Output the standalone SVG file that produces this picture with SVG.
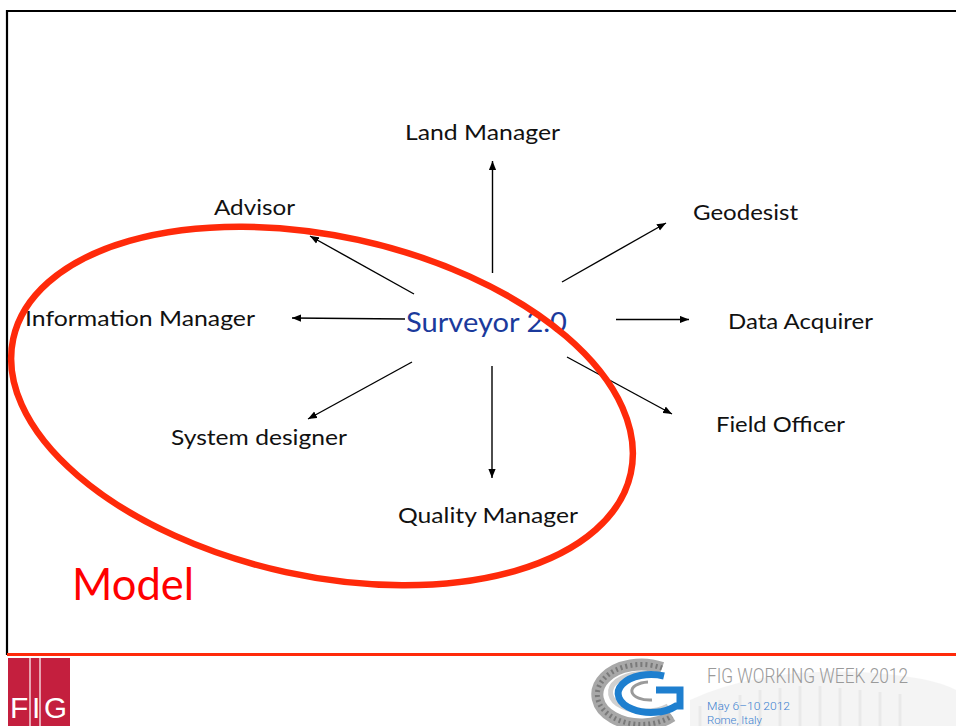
<svg xmlns="http://www.w3.org/2000/svg" width="956" height="726" viewBox="0 0 956 726">
<defs>
<style>
.lbl{font-family:Lato,"Open Sans","Liberation Sans",sans-serif;font-size:21.5px;fill:#111}
.ctr{font-family:Lato,"Open Sans","Liberation Sans",sans-serif;font-size:27px;fill:#1b3a9c}
.model{font-family:Lato,"Open Sans","Liberation Sans",sans-serif;font-size:44px;fill:#ff0000}
.conn{stroke:#000;stroke-width:1.4;fill:none;marker-end:url(#ah)}
.foot1{font-family:Roboto,"Liberation Sans",sans-serif;font-weight:300;font-size:21px;fill:#9a9a9a}
.foot2{font-family:Roboto,"Liberation Sans",sans-serif;font-weight:300;font-size:11px;fill:#3a7fd0}
.figt{font-family:"Liberation Sans",Arial,sans-serif;font-size:30px;fill:#fff}
</style>
<marker id="ah" viewBox="0 0 10 8" refX="10" refY="4" markerWidth="9" markerHeight="8" markerUnits="userSpaceOnUse" orient="auto">
<path d="M0,0 L10,4 L0,8 Z" fill="#000"/>
</marker>
</defs>
<rect width="956" height="726" fill="#fff"/>
<!-- frame -->
<line x1="7" y1="11" x2="956" y2="11" stroke="#000" stroke-width="2.2"/>
<line x1="7" y1="10" x2="7" y2="655" stroke="#000" stroke-width="2.2"/>
<line x1="7" y1="654.5" x2="956" y2="654.5" stroke="#ff2a0a" stroke-width="3"/>

<g id="connectors">
<line class="conn" x1="492.5" y1="273" x2="492.5" y2="161"/>
<line class="conn" x1="414" y1="294" x2="310" y2="236"/>
<line class="conn" x1="562" y1="282" x2="666" y2="223"/>
<line class="conn" x1="405" y1="319" x2="292" y2="318"/>
<line class="conn" x1="616" y1="319.5" x2="689" y2="319.5"/>
<line class="conn" x1="412" y1="362" x2="308" y2="419"/>
<line class="conn" x1="492" y1="366" x2="492" y2="478"/>
<line class="conn" x1="567" y1="357" x2="672" y2="414"/>
</g>

<g id="n-center"><text class="ctr" x="406" y="332" textLength="161" lengthAdjust="spacingAndGlyphs">Surveyor 2.0</text></g>
<g id="n-land"><text class="lbl" x="405" y="140" textLength="155" lengthAdjust="spacingAndGlyphs">Land Manager</text></g>
<g id="n-advisor"><text class="lbl" x="214" y="215" textLength="81" lengthAdjust="spacingAndGlyphs">Advisor</text></g>
<g id="n-geodesist"><text class="lbl" x="693" y="220" textLength="105" lengthAdjust="spacingAndGlyphs">Geodesist</text></g>
<g id="n-info"><text class="lbl" x="25" y="326" textLength="230" lengthAdjust="spacingAndGlyphs">Information Manager</text></g>
<g id="n-data"><text class="lbl" x="728" y="329" textLength="145" lengthAdjust="spacingAndGlyphs">Data Acquirer</text></g>
<g id="n-field"><text class="lbl" x="716" y="432" textLength="129" lengthAdjust="spacingAndGlyphs">Field Officer</text></g>
<g id="n-system"><text class="lbl" x="171" y="445" textLength="176" lengthAdjust="spacingAndGlyphs">System designer</text></g>
<g id="n-quality"><text class="lbl" x="398" y="523" textLength="180" lengthAdjust="spacingAndGlyphs">Quality Manager</text></g>

<g id="model-ellipse">
<ellipse cx="322" cy="406" rx="316" ry="170" transform="rotate(12.3 322 406)" fill="none" stroke="#ff2a0a" stroke-width="6.5"/>
</g>
<g id="model-label"><text class="model" x="72" y="600" textLength="122" lengthAdjust="spacingAndGlyphs">Model</text></g>

<!-- footer -->
<g id="fig-logo">
<rect x="8" y="658" width="62" height="68" fill="#c41f3e"/>
<line x1="30" y1="658" x2="30" y2="726" stroke="#fff" stroke-width="1.2"/>
<line x1="40" y1="658" x2="40" y2="726" stroke="#fff" stroke-width="1.2"/>
<text class="figt" x="10" y="718">F</text>
<text class="figt" x="32" y="718">I</text>
<text class="figt" x="44" y="718" textLength="23" lengthAdjust="spacingAndGlyphs">G</text>
</g>

<g id="backdrop" opacity="0.18">
<path d="M690,726 L690,700 Q760,668 860,672 Q930,676 956,690 L956,726 Z" fill="#c8c8c8"/>
<path d="M700,726 L700,706 M720,726 L720,700 M740,726 L740,695 M760,726 L760,690 M780,726 L780,688 M800,726 L800,686 M820,726 L820,686 M840,726 L840,688 M860,726 L860,690 M880,726 L880,692 M900,726 L900,694" stroke="#888" stroke-width="3"/>
</g>

<g id="colosseum-logo">
<path d="M662,668 A44,30 0 1 0 672,716" fill="none" stroke="#a8a8a8" stroke-width="12"/>
<path d="M662,668 A44,30 0 1 0 672,716" fill="none" stroke="#7a7a7a" stroke-width="5" stroke-dasharray="2 3"/>
<path d="M662,676 A34,19 0 1 0 668,706" fill="none" stroke="#d0d0d0" stroke-width="5"/>
<path d="M664,676 A33,19 0 1 0 676,706 L680,706 L680,690 L656,690" fill="none" stroke="#1e7fcf" stroke-width="7"/>
<path d="M648,682 A18,9 0 1 0 652,700" fill="none" stroke="#9a9a9a" stroke-width="3"/>
</g>

<g id="footer-text">
<text class="foot1" x="707" y="683" textLength="201" lengthAdjust="spacingAndGlyphs">FIG WORKING WEEK 2012</text>
<text class="foot2" x="707" y="710" textLength="83" lengthAdjust="spacingAndGlyphs">May 6–10 2012</text>
<text class="foot2" x="707" y="723.5" textLength="55" lengthAdjust="spacingAndGlyphs">Rome, Italy</text>
</g>
</svg>
